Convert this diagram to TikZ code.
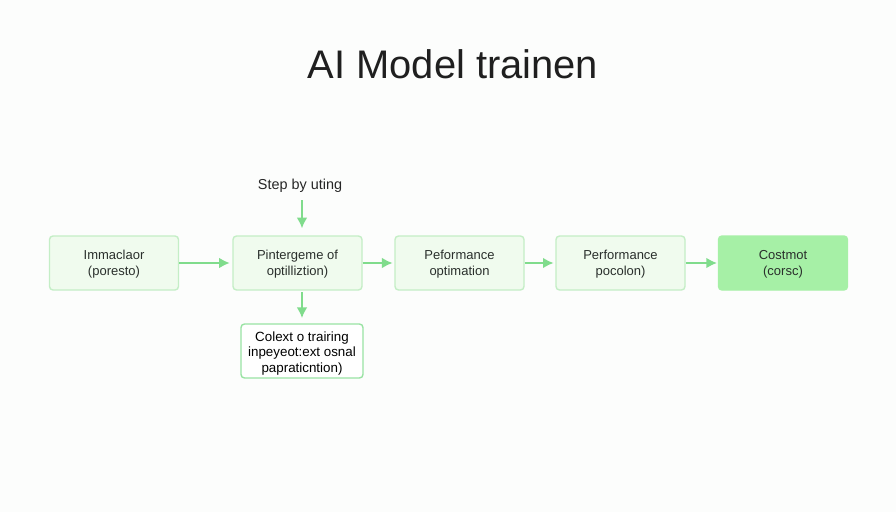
\documentclass[tikz,border=0pt]{standalone}
\usepackage{fontspec}
\setmainfont{Liberation Sans}
\usepackage{tikz}
\usetikzlibrary{arrows.meta}
\definecolor{pagebg}{HTML}{FCFDFC}
\definecolor{palegreen}{HTML}{F0FBEE}
\definecolor{edgegreen}{HTML}{C4EEC6}
\definecolor{arrowgreen}{HTML}{80DC8C}
\definecolor{stronggreen}{HTML}{A6F0A6}
\definecolor{inkgrey}{HTML}{2A2F2C}
\tikzset{
  StageBox/.style = {draw=edgegreen, fill=palegreen, line width=0.8pt, rounded corners=2pt,
    minimum width=2.58cm, minimum height=1.08cm, align=center, text=inkgrey,
    text height=16pt, font=\fontsize{7.4}{9.1}\selectfont},
  FinalBox/.style = {StageBox, draw=stronggreen, fill=stronggreen},
  NoteBox/.style = {StageBox, draw=arrowgreen!80!white, fill=white, minimum width=2.44cm,
    text=black, text height=25.5pt, inner ysep=0.5pt, font=\fontsize{7.6}{8.8}\selectfont},
  FlowArrow/.style = {-{Latex[length=6pt,width=6pt]}, draw=arrowgreen, line width=0.9pt}
}
\begin{document}
\begin{tikzpicture}
    \useasboundingbox[fill=pagebg] (0,0) rectangle (17.92,10.24);
    \node (title) at (9.06,8.96) {\fontsize{22.7}{25}\selectfont\color{black!88}AI Model trainen};
    \node[font=\fontsize{8.2}{10}\selectfont, text=black!85] (steplabel) at (6.0,6.53) {Step by uting};
    \node[StageBox] (immaclaor) at (2.28,4.98) {Immaclaor\\(poresto)};
    \node[StageBox] (pintergeme) at (5.95,4.98) {Pintergeme of\\optilliztion)};
    \node[StageBox] (peformance) at (9.19,4.98) {Peformance\\optimation};
    \node[StageBox] (performance) at (12.41,4.98) {Performance\\pocolon)};
    \node[FinalBox] (costmot) at (15.66,4.98) {Costmot\\(corsc)};
    \node[NoteBox] (colext) at (6.04,3.22) {Colext o trairing\\inpeyeot:ext osnal\\papraticntion)};
    \draw[FlowArrow] (immaclaor) -- ([xshift=-1.5pt]pintergeme.west);
    \draw[FlowArrow, shorten >=1pt] (pintergeme) -- (peformance);
    \draw[FlowArrow, shorten >=1pt] (peformance) -- (performance);
    \draw[FlowArrow] (performance) -- ([xshift=-0.5pt]costmot.west);
    \draw[FlowArrow, shorten <=1pt, shorten >=4pt] (steplabel.south -| colext) -- (pintergeme.north -| colext);
    \draw[FlowArrow, shorten <=1pt, shorten >=3pt] (pintergeme.south -| colext) -- (colext.north);
\end{tikzpicture}
\end{document}
